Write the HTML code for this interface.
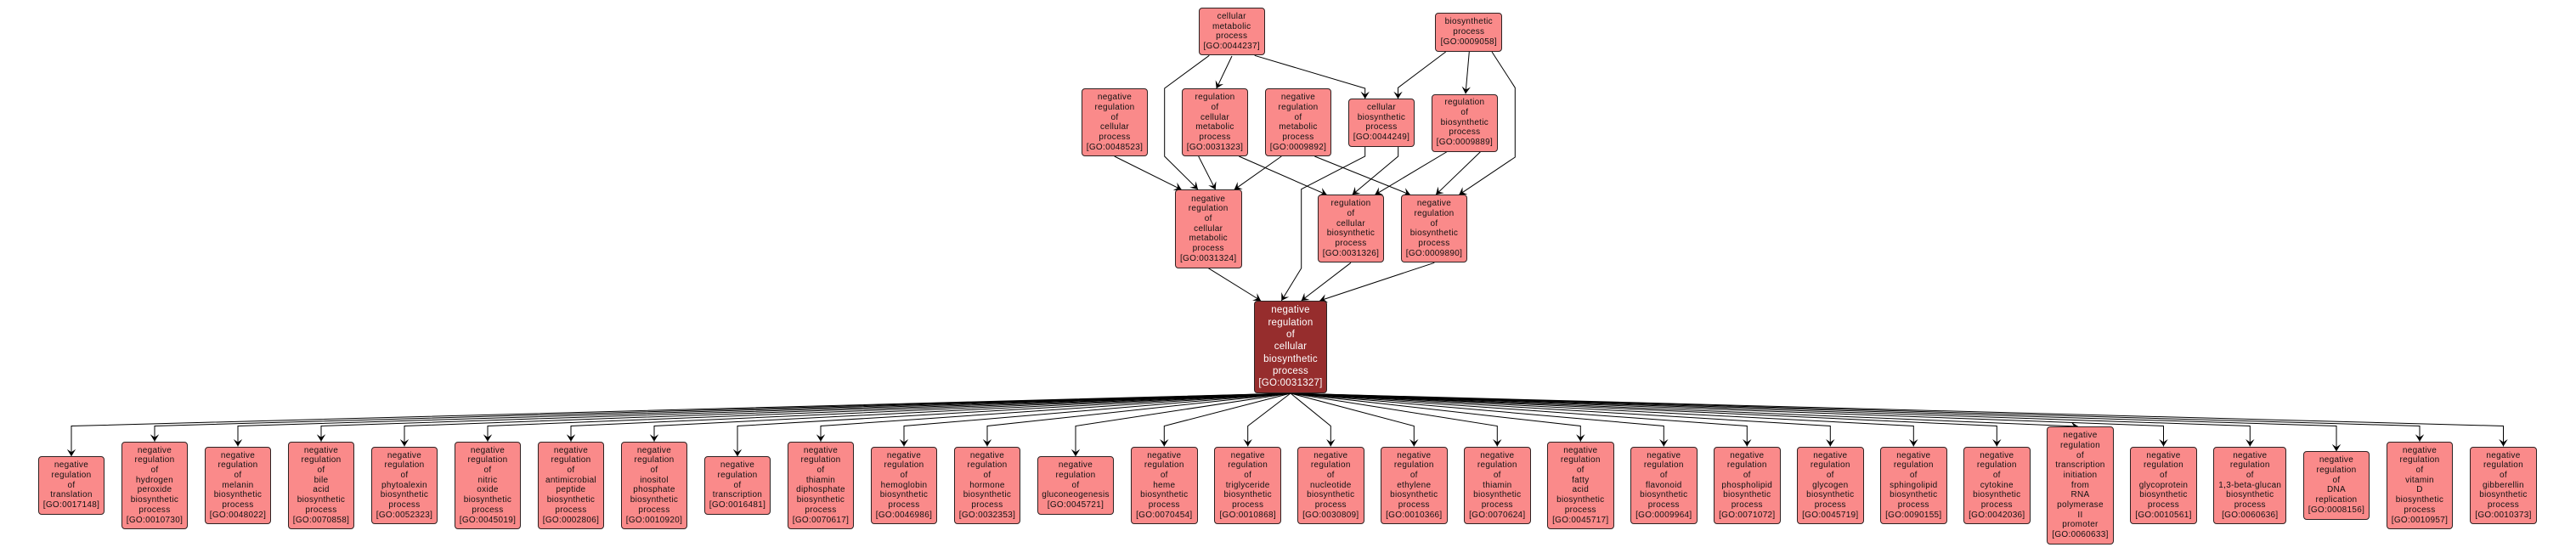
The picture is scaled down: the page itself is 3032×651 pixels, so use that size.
<!DOCTYPE html>
<html>
<head>
<meta charset="utf-8">
<style>
html,body{margin:0;padding:0;background:#fff;}
body{width:3032px;height:651px;position:relative;overflow:hidden;}
svg{position:absolute;left:0;top:0;}
.n{position:absolute;box-sizing:border-box;background:#fa8a8a;border:1px solid #2e2222;border-radius:4px;
display:flex;align-items:center;justify-content:center;text-align:center;
font-family:"Liberation Sans",Arial,sans-serif;font-size:10px;letter-spacing:0.3px;line-height:11.7px;color:#111;white-space:nowrap;width:78.6px;}
.c{background:#962d2d;color:#fff;font-size:11.5px;letter-spacing:0.25px;line-height:14.3px;}
.h5{height:68.5px;top:537.25px;}
.h6{height:80.2px;top:531.4px;}
.h7{height:91.9px;top:525.55px;}
.h8{height:103.6px;top:519.7px;}
.h11{height:138.7px;top:502.15px;}
</style>
</head>
<body>
<svg width="3032" height="651" viewBox="0 0 3032 651">
<defs>
<marker id="a" markerWidth="12" markerHeight="12" refX="10" refY="6" orient="auto" markerUnits="userSpaceOnUse" viewBox="0 0 12 12">
<path d="M10,6 L1.5,0.8 L5,6 L1.5,11.2 Z" fill="#000"/>
</marker>
</defs>
<g fill="none" stroke="#000" stroke-width="1" marker-end="url(#a)">
<!-- top edges -->
<path d="M1423.3,65.3 L1370.7,104 L1370.7,184 L1410,223"/>
<path d="M1450,66 L1431.7,104.3"/>
<path d="M1476.7,65.3 L1606.7,104 L1606.7,116.3"/>
<path d="M1701.7,61 L1645.5,103.3 L1645.5,116.3"/>
<path d="M1729.3,61 L1725,110.5"/>
<path d="M1756,61 L1783.3,103.3 L1783.3,185 L1717.3,229.3"/>
<path d="M1311.7,184 L1390.7,223.3"/>
<path d="M1410.7,184 L1430.7,223.3"/>
<path d="M1458.3,184 L1561.7,229.3"/>
<path d="M1508.3,184 L1452.7,223.3"/>
<path d="M1547.3,184 L1660,229.3"/>
<path d="M1606.7,172.7 L1606.7,184 L1531.7,222.7 L1531.7,315.7 L1508.3,354"/>
<path d="M1645.7,172.7 L1645.7,184 L1591.7,229.3"/>
<path d="M1703.3,178.5 L1618.3,229.3"/>
<path d="M1742.7,178.5 L1690,229.3"/>
<path d="M1422.3,315.7 L1484,354"/>
<path d="M1590,309.3 L1531.7,354"/>
<path d="M1688.3,309.3 L1553.3,354"/>
<!-- fan edges -->
<path d="M1519,463 L84,501.5 L84,537.3"/>
<path d="M1519,463 L182,501.5 L182,519.7"/>
<path d="M1519,463 L280,501.5 L280,525.5"/>
<path d="M1519,463 L378,501.5 L378,519.7"/>
<path d="M1519,463 L476,501.5 L476,525.5"/>
<path d="M1519,463 L574,501.5 L574,519.7"/>
<path d="M1519,463 L672,501.5 L672,519.7"/>
<path d="M1519,463 L770,501.5 L770,519.7"/>
<path d="M1519,463 L868,501.5 L868,537.3"/>
<path d="M1519,463 L966,501.5 L966,519.7"/>
<path d="M1519,463 L1064,501.5 L1064,525.5"/>
<path d="M1519,463 L1162,501.5 L1162,525.5"/>
<path d="M1519,463 L1266,501.5 L1266,537.3"/>
<path d="M1519,463 L1370.3,501.5 L1370.3,525.5"/>
<path d="M1519,463 L1468.7,501.5 L1468.7,525.5"/>
<path d="M1519,463 L1566.3,501.5 L1566.3,525.5"/>
<path d="M1519,463 L1664.3,501.5 L1664.3,525.5"/>
<path d="M1519,463 L1762.3,501.5 L1762.3,525.5"/>
<path d="M1519,463 L1860.3,501.5 L1860.3,519.7"/>
<path d="M1519,463 L1958.3,501.5 L1958.3,525.5"/>
<path d="M1519,463 L2056.3,501.5 L2056.3,525.5"/>
<path d="M1519,463 L2154.3,501.5 L2154.3,525.5"/>
<path d="M1519,463 L2252.3,501.5 L2252.3,525.5"/>
<path d="M1519,463 L2350.3,501.5 L2350.3,525.5"/>
<path d="M1519,463 L2446,502"/>
<path d="M1519,463 L2546.5,501.5 L2546.5,525.5"/>
<path d="M1519,463 L2648.3,501.5 L2648.3,525.5"/>
<path d="M1519,463 L2750,501.5 L2750,531.4"/>
<path d="M1519,463 L2848,501.5 L2848,519.7"/>
<path d="M1519,463 L2946.5,501.5 L2946.5,525.5"/>
</g>
</svg>

<!-- top nodes -->
<div class="n" style="left:1410.7px;top:9.3px;width:78px;height:56px;">cellular<br>metabolic<br>process<br>[GO:0044237]</div>
<div class="n" style="left:1689.3px;top:15.3px;width:79px;height:45.4px;">biosynthetic<br>process<br>[GO:0009058]</div>
<div class="n" style="left:1272.7px;top:104.3px;height:80px;">negative<br>regulation<br>of<br>cellular<br>process<br>[GO:0048523]</div>
<div class="n" style="left:1390.7px;top:104.3px;height:80px;">regulation<br>of<br>cellular<br>metabolic<br>process<br>[GO:0031323]</div>
<div class="n" style="left:1488.7px;top:104.3px;height:80px;">negative<br>regulation<br>of<br>metabolic<br>process<br>[GO:0009892]</div>
<div class="n" style="left:1586.7px;top:116.3px;height:56.4px;">cellular<br>biosynthetic<br>process<br>[GO:0044249]</div>
<div class="n" style="left:1684.6px;top:110.5px;height:68px;">regulation<br>of<br>biosynthetic<br>process<br>[GO:0009889]</div>
<div class="n" style="left:1382.7px;top:223.3px;width:79px;height:92.4px;">negative<br>regulation<br>of<br>cellular<br>metabolic<br>process<br>[GO:0031324]</div>
<div class="n" style="left:1550.7px;top:229.3px;height:80px;">regulation<br>of<br>cellular<br>biosynthetic<br>process<br>[GO:0031326]</div>
<div class="n" style="left:1648.7px;top:229.3px;height:80px;">negative<br>regulation<br>of<br>biosynthetic<br>process<br>[GO:0009890]</div>
<div class="n c" style="left:1475.7px;top:354px;width:86.6px;height:109px;">negative<br>regulation<br>of<br>cellular<br>biosynthetic<br>process<br>[GO:0031327]</div>

<!-- bottom nodes -->
<div class="n h5" style="left:44.7px;">negative<br>regulation<br>of<br>translation<br>[GO:0017148]</div>
<div class="n h8" style="left:142.7px;">negative<br>regulation<br>of<br>hydrogen<br>peroxide<br>biosynthetic<br>process<br>[GO:0010730]</div>
<div class="n h7" style="left:240.7px;">negative<br>regulation<br>of<br>melanin<br>biosynthetic<br>process<br>[GO:0048022]</div>
<div class="n h8" style="left:338.7px;">negative<br>regulation<br>of<br>bile<br>acid<br>biosynthetic<br>process<br>[GO:0070858]</div>
<div class="n h7" style="left:436.7px;">negative<br>regulation<br>of<br>phytoalexin<br>biosynthetic<br>process<br>[GO:0052323]</div>
<div class="n h8" style="left:534.7px;">negative<br>regulation<br>of<br>nitric<br>oxide<br>biosynthetic<br>process<br>[GO:0045019]</div>
<div class="n h8" style="left:632.7px;">negative<br>regulation<br>of<br>antimicrobial<br>peptide<br>biosynthetic<br>process<br>[GO:0002806]</div>
<div class="n h8" style="left:730.7px;">negative<br>regulation<br>of<br>inositol<br>phosphate<br>biosynthetic<br>process<br>[GO:0010920]</div>
<div class="n h5" style="left:828.7px;">negative<br>regulation<br>of<br>transcription<br>[GO:0016481]</div>
<div class="n h8" style="left:926.7px;">negative<br>regulation<br>of<br>thiamin<br>diphosphate<br>biosynthetic<br>process<br>[GO:0070617]</div>
<div class="n h7" style="left:1024.7px;">negative<br>regulation<br>of<br>hemoglobin<br>biosynthetic<br>process<br>[GO:0046986]</div>
<div class="n h7" style="left:1122.7px;">negative<br>regulation<br>of<br>hormone<br>biosynthetic<br>process<br>[GO:0032353]</div>
<div class="n h5" style="left:1220.7px;width:90.6px;">negative<br>regulation<br>of<br>gluconeogenesis<br>[GO:0045721]</div>
<div class="n h7" style="left:1331px;">negative<br>regulation<br>of<br>heme<br>biosynthetic<br>process<br>[GO:0070454]</div>
<div class="n h7" style="left:1429.4px;">negative<br>regulation<br>of<br>triglyceride<br>biosynthetic<br>process<br>[GO:0010868]</div>
<div class="n h7" style="left:1527px;">negative<br>regulation<br>of<br>nucleotide<br>biosynthetic<br>process<br>[GO:0030809]</div>
<div class="n h7" style="left:1625px;">negative<br>regulation<br>of<br>ethylene<br>biosynthetic<br>process<br>[GO:0010366]</div>
<div class="n h7" style="left:1723px;">negative<br>regulation<br>of<br>thiamin<br>biosynthetic<br>process<br>[GO:0070624]</div>
<div class="n h8" style="left:1821px;">negative<br>regulation<br>of<br>fatty<br>acid<br>biosynthetic<br>process<br>[GO:0045717]</div>
<div class="n h7" style="left:1919px;">negative<br>regulation<br>of<br>flavonoid<br>biosynthetic<br>process<br>[GO:0009964]</div>
<div class="n h7" style="left:2017px;">negative<br>regulation<br>of<br>phospholipid<br>biosynthetic<br>process<br>[GO:0071072]</div>
<div class="n h7" style="left:2115px;">negative<br>regulation<br>of<br>glycogen<br>biosynthetic<br>process<br>[GO:0045719]</div>
<div class="n h7" style="left:2213px;">negative<br>regulation<br>of<br>sphingolipid<br>biosynthetic<br>process<br>[GO:0090155]</div>
<div class="n h7" style="left:2311px;">negative<br>regulation<br>of<br>cytokine<br>biosynthetic<br>process<br>[GO:0042036]</div>
<div class="n h11" style="left:2409.2px;">negative<br>regulation<br>of<br>transcription<br>initiation<br>from<br>RNA<br>polymerase<br>II<br>promoter<br>[GO:0060633]</div>
<div class="n h7" style="left:2507.2px;">negative<br>regulation<br>of<br>glycoprotein<br>biosynthetic<br>process<br>[GO:0010561]</div>
<div class="n h7" style="left:2605.3px;width:86px;">negative<br>regulation<br>of<br>1,3-beta-glucan<br>biosynthetic<br>process<br>[GO:0060636]</div>
<div class="n h6" style="left:2710.7px;">negative<br>regulation<br>of<br>DNA<br>replication<br>[GO:0008156]</div>
<div class="n h8" style="left:2808.7px;">negative<br>regulation<br>of<br>vitamin<br>D<br>biosynthetic<br>process<br>[GO:0010957]</div>
<div class="n h7" style="left:2907.2px;">negative<br>regulation<br>of<br>gibberellin<br>biosynthetic<br>process<br>[GO:0010373]</div>
</body>
</html>
